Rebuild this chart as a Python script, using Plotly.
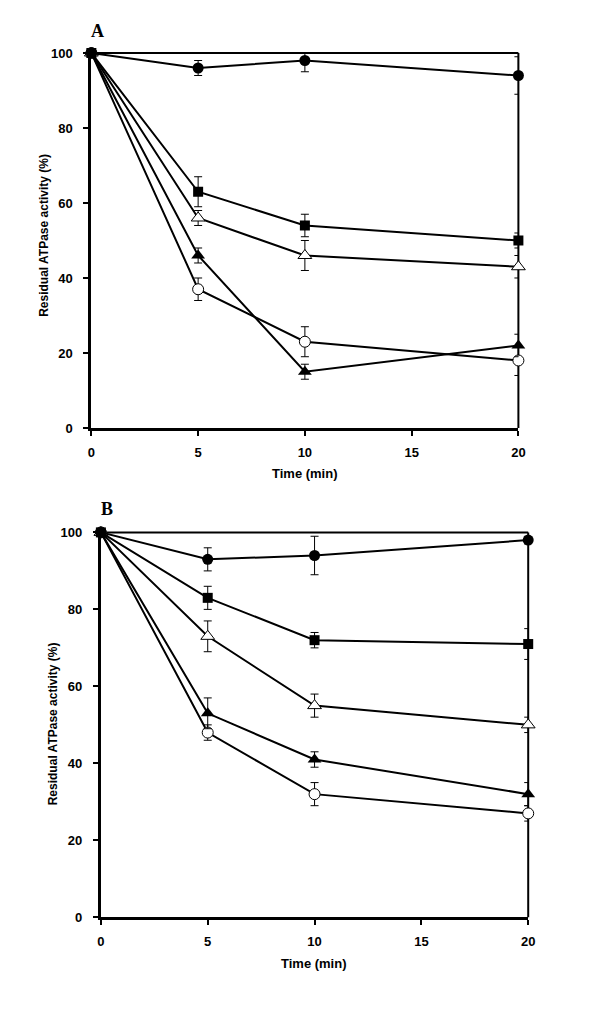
import plotly.graph_objects as go

time = [0, 5, 10, 20]
x_ticks = [0, 5, 10, 15, 20]
y_ticks = [0, 20, 40, 60, 80, 100]

# Panel A
a_fcirc = [100, 96, 98, 94]
a_fcirc_err = [0, 2, 3, 5]
a_fsq = [100, 63, 54, 50]
a_fsq_err = [0, 4, 3, 2]
a_otri = [100, 56, 46, 43]
a_otri_err = [0, 2, 4, 3]
a_ftri = [100, 46, 15, 22]
a_ftri_err = [0, 2, 2, 3]
a_ocirc = [100, 37, 23, 18]
a_ocirc_err = [0, 3, 4, 4]

# Panel B
b_fcirc = [100, 93, 94, 98]
b_fcirc_err = [0, 3, 5, 1]
b_fsq = [100, 83, 72, 71]
b_fsq_err = [0, 3, 2, 4]
b_otri = [100, 73, 55, 50]
b_otri_err = [0, 4, 3, 2]
b_ftri = [100, 53, 41, 32]
b_ftri_err = [0, 4, 2, 3]
b_ocirc = [100, 48, 32, 27]
b_ocirc_err = [0, 2, 3, 2]

W, H = 600, 1013
FONT = "Liberation Sans"

fig = go.Figure()

styles = {
    "ocirc": dict(symbol="circle", size=11, color="white", line=dict(color="black", width=1)),
    "ftri": dict(symbol="triangle-up", size=12, color="black", line=dict(color="black", width=0)),
    "otri": dict(symbol="triangle-up", size=12, color="white", line=dict(color="black", width=1)),
    "fcirc": dict(symbol="circle", size=11, color="black", line=dict(color="black", width=0)),
    "fsq": dict(symbol="square", size=10, color="black", line=dict(color="black", width=0)),
}

def add_series(y, err, key, xa, ya):
    fig.add_trace(go.Scatter(
        x=time, y=y, mode="lines+markers",
        line=dict(color="black", width=2),
        marker=styles[key],
        error_y=dict(type="data", array=err, visible=True, color="black", thickness=1, width=4),
        xaxis=xa, yaxis=ya, showlegend=False, cliponaxis=False,
    ))

for y, e, k in [(a_ocirc, a_ocirc_err, "ocirc"), (a_ftri, a_ftri_err, "ftri"),
                (a_otri, a_otri_err, "otri"), (a_fcirc, a_fcirc_err, "fcirc"),
                (a_fsq, a_fsq_err, "fsq")]:
    add_series(y, e, k, "x", "y")
for y, e, k in [(b_ocirc, b_ocirc_err, "ocirc"), (b_ftri, b_ftri_err, "ftri"),
                (b_otri, b_otri_err, "otri"), (b_fcirc, b_fcirc_err, "fcirc"),
                (b_fsq, b_fsq_err, "fsq")]:
    add_series(y, e, k, "x2", "y2")

def px_x(p):
    return p / W

def px_y(p):
    return (H - p) / H

A_px = (89, 524, 46.7, 427.3)      # left, right, top, bottom
B_px = (98.7, 534, 533.3, 924)
A_x = [px_x(A_px[0]), px_x(A_px[1])]
A_y = [px_y(A_px[3]), px_y(A_px[2])]
B_x = [px_x(B_px[0]), px_x(B_px[1])]
B_y = [px_y(B_px[3]), px_y(B_px[2])]

tickfont = dict(family=FONT, size=13, color="black", weight="bold")

def xaxis(dom, anchor):
    return dict(domain=dom, anchor=anchor, range=[0, 20], tickvals=x_ticks,
                showline=True, linecolor="black", linewidth=3, ticks="outside",
                ticklen=5, tickwidth=2, tickcolor="black", showgrid=False,
                zeroline=False, tickfont=tickfont, ticklabelstandoff=5, fixedrange=True)

def yaxis(dom, anchor):
    return dict(domain=dom, anchor=anchor, range=[0, 100], tickvals=y_ticks,
                showline=True, linecolor="black", linewidth=3, ticks="outside",
                ticklen=5, tickwidth=2, tickcolor="black", showgrid=False,
                zeroline=False, tickfont=tickfont, ticklabelstandoff=8, fixedrange=True)

fig.update_layout(
    width=W, height=H, margin=dict(l=0, r=0, t=0, b=0),
    plot_bgcolor="rgba(0,0,0,0)", paper_bgcolor="white",
    xaxis=xaxis(A_x, "y"), yaxis=yaxis(A_y, "x"),
    xaxis2=xaxis(B_x, "y2"), yaxis2=yaxis(B_y, "x2"),
    xaxis3=dict(domain=A_x, anchor="y", overlaying="x", range=[0, 20], tickvals=x_ticks,
                ticks="inside", ticklen=5, tickwidth=2, tickcolor="black",
                showticklabels=False, showline=False, showgrid=False, zeroline=False),
    xaxis4=dict(domain=B_x, anchor="y2", overlaying="x2", range=[0, 20], tickvals=x_ticks,
                ticks="inside", ticklen=5, tickwidth=2, tickcolor="black",
                showticklabels=False, showline=False, showgrid=False, zeroline=False),
)

# frame top and right lines (paper coords so they are not clipped by the plot area)
for (l, r, t, b) in [A_px, B_px]:
    fig.add_shape(type="line", xref="paper", yref="paper", x0=px_x(l), x1=px_x(r),
                  y0=px_y(t), y1=px_y(t), line=dict(color="black", width=2), layer="below")
    fig.add_shape(type="line", xref="paper", yref="paper", x0=px_x(r), x1=px_x(r),
                  y0=px_y(b), y1=px_y(t), line=dict(color="black", width=2), layer="below")

title_font = dict(family=FONT, size=12, color="black")
ann = [
    dict(text="<b>A</b>", x=px_x(95), y=px_y(24), font=dict(family="Liberation Serif", size=18, color="black")),
    dict(text="<b>B</b>", x=px_x(105), y=px_y(510), font=dict(family="Liberation Serif", size=18, color="black")),
    dict(text="<b>Residual ATPase activity (%)</b>", x=px_x(40), y=px_y(232), textangle=-90, font=title_font),
    dict(text="<b>Residual ATPase activity (%)</b>", x=px_x(50), y=px_y(728), textangle=-90, font=title_font),
    dict(text="<b>Time (min)</b>", x=px_x(307), y=px_y(474), font=dict(family=FONT, size=13, color="black")),
    dict(text="<b>Time (min)</b>", x=px_x(316), y=px_y(971), font=dict(family=FONT, size=13, color="black")),
]
for a in ann:
    fig.add_annotation(xref="paper", yref="paper", showarrow=False,
                       xanchor="center", yanchor="middle", **a)

fig.write_html("out.html", config={"displayModeBar": False},
               post_script="document.body.style.margin='0';document.body.style.overflow='hidden';")
